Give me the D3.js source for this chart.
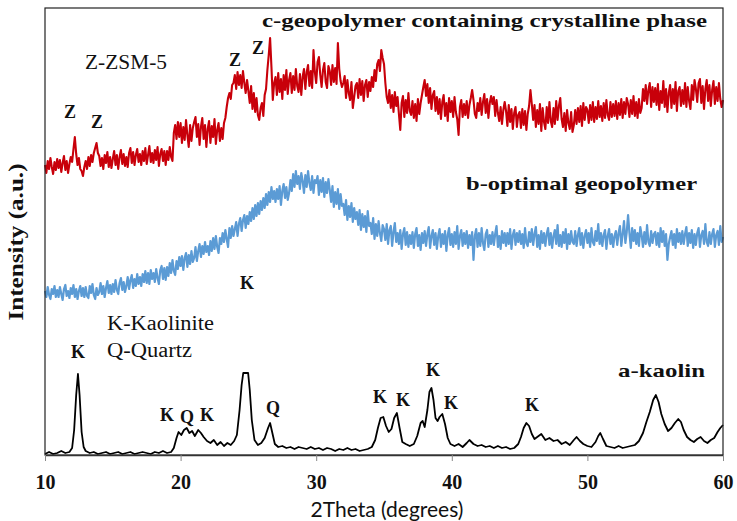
<!DOCTYPE html>
<html>
<head>
<meta charset="utf-8">
<script src="https://cdn.jsdelivr.net/npm/d3@7"></script>
<style>
  html, body { margin: 0; padding: 0; background: #fff; }
  svg { display: block; }
</style>
</head>
<body>
<svg id="chart" width="737" height="521"></svg>
<script>
// ---------- DATA ----------
const xTicks = [10, 20, 30, 40, 50, 60];
const xTitle = "2Theta (degrees)";
const yTitle = "Intensity (a.u.)";

// c-geopolymer containing crystalline phase (2θ 10.0 → 60.0, step 0.1; one row per degree)
const geoCrystalline = [
  290,282,294,286,297,288,281,293,285,296,
  287,295,283,292,299,285,294,282,291,298,
  293,306,318,301,290,297,286,284,279,288,
  294,286,298,289,300,293,302,307,312,302,
  299,289,297,286,300,292,303,288,298,287,
  296,304,290,300,286,298,305,291,301,289,
  298,288,302,307,292,303,290,300,306,293,
  301,290,304,294,307,291,300,309,293,302,
  292,305,295,308,289,301,306,294,304,290,
  304,295,308,298,294,322,330,316,333,318,
  332,312,328,315,335,320,308,330,314,327,
  333,338,318,331,310,328,337,316,330,308,
  326,334,312,329,318,336,311,325,332,314,
  327,316,332,337,348,357,362,356,370,372,
  380,366,383,370,380,367,384,372,362,375,
  364,352,369,346,362,343,357,340,335,347,
  352,339,360,366,385,400,417,388,355,372,
  378,360,382,363,376,356,380,365,385,361,
  375,382,362,379,365,386,369,363,381,360,
  378,386,366,383,390,369,384,367,405,383,
  372,393,398,380,368,385,392,373,367,389,
  384,370,390,373,387,371,412,386,374,368,
  372,379,357,375,362,355,373,347,358,369,
  372,357,376,360,374,354,370,375,358,373,
  364,378,368,385,374,391,395,384,405,397,
  391,372,358,352,365,347,360,343,363,349,
  358,341,325,352,359,338,355,342,362,344,
  340,354,337,351,334,356,341,352,360,368,
  375,359,371,352,367,346,360,364,344,358,
  341,356,336,353,360,339,352,334,357,343,
  354,338,358,343,336,320,348,355,338,351,
  340,354,337,350,357,365,355,341,337,352,
  344,357,340,353,361,342,356,337,352,359,
  351,358,339,355,342,334,348,331,345,353,
  344,329,350,333,346,326,342,348,328,340,
  343,327,346,330,344,325,341,349,365,351,
  335,350,328,345,331,351,324,347,333,326,
  348,332,353,334,328,347,331,354,335,349,
  357,336,328,342,324,345,332,326,343,323,
  330,345,331,347,333,349,329,352,335,348,
  345,332,350,335,353,333,348,336,354,338,
  349,334,352,337,355,340,335,353,338,351,
  339,354,336,352,340,356,337,353,341,357,
  351,338,355,341,359,339,353,337,356,342,
  347,366,354,370,351,365,372,348,368,353,
  367,350,371,345,364,352,374,348,366,343,
  362,370,347,366,351,373,344,364,368,349,
  365,351,372,348,368,354,346,370,355,375,
  366,353,372,376,352,369,346,366,375,354,
  370,349,365,374,351,368,354,372,356,348,
  355
];

// b-optimal geopolymer (2θ 10.0 → 60.0, step 0.1; one row per degree)
const geoOptimal = [
  164,158,168,160,156,166,161,169,158,165,
  158,168,161,155,166,170,159,164,157,167,
  161,170,158,166,156,164,169,159,167,158,
  168,159,157,169,162,171,160,156,167,160,
  163,172,161,169,158,167,174,162,170,161,
  171,163,175,165,161,172,177,165,173,163,
  169,178,166,175,180,167,176,169,181,171,
  178,169,181,173,184,172,182,171,185,176,
  182,173,186,177,171,185,189,176,187,175,
  188,179,192,182,195,184,180,194,186,198,
  189,199,185,197,202,188,200,191,204,193,
  197,208,194,204,211,198,209,201,213,203,
  209,200,214,204,217,206,219,208,202,217,
  211,222,213,225,216,208,227,217,229,219,
  226,233,219,231,237,224,235,240,227,239,
  231,243,234,247,236,250,239,252,241,254,
  245,257,247,261,250,263,253,268,256,264,
  253,266,256,269,250,264,271,257,268,255,
  262,275,264,281,268,284,271,279,266,282,
  274,262,280,268,284,272,265,279,262,275,
  272,279,260,275,263,277,258,273,262,276,
  265,253,269,248,263,251,266,246,261,249,
  251,240,255,235,249,238,252,233,247,236,
  243,230,245,225,241,228,239,223,244,229,
  232,221,237,216,231,219,234,222,214,230,
  226,215,231,211,225,229,209,223,232,213,
  222,211,225,206,221,227,210,223,208,220,
  211,223,207,221,227,209,220,205,222,212,
  224,209,221,228,207,219,225,210,222,206,
  219,226,208,221,211,224,204,220,227,210,
  221,208,223,211,229,206,219,225,209,222,
  211,224,207,220,210,223,195,219,226,208,
  222,209,227,212,205,221,225,208,220,211,
  223,210,221,229,208,219,206,224,212,222,
  209,222,211,226,206,220,225,210,222,213,
  224,211,221,207,227,212,209,223,213,226,
  210,221,228,208,220,206,224,212,222,209,
  221,227,210,222,207,219,225,211,230,209,
  220,208,223,212,226,206,221,211,224,213,
  211,224,209,220,227,210,222,207,219,225,
  212,222,208,227,213,210,224,214,231,211,
  222,209,220,225,206,219,226,211,221,208,
  219,224,210,222,229,209,221,234,212,223,
  240,222,207,227,214,225,211,222,209,228,
  220,208,223,211,230,213,209,224,212,221,
  223,210,222,208,227,213,224,209,221,195,
  211,218,224,210,221,207,226,213,222,211,
  224,211,221,228,209,222,212,225,207,221,
  210,222,227,208,220,224,211,231,213,209,
  223,211,221,226,208,220,224,210,229,213,
  218
];

// a-kaolin (explicit 2θ positions and intensities)
const kaolinAngles = [
  10.0,10.3,10.6,10.9,11.2,11.5,11.8,12.0,12.15,12.3,12.43,12.55,12.7,12.85,13.0,13.3,13.6,13.9,
  14.2,14.5,14.8,15.1,15.4,15.7,16.0,16.3,16.6,16.9,17.2,17.5,17.8,18.1,18.4,18.7,19.0,19.3,
  19.5,19.7,19.85,20.05,20.25,20.45,20.65,20.85,21.05,21.3,21.5,21.7,21.95,22.2,22.45,22.7,
  22.95,23.2,23.45,23.7,23.95,24.15,24.35,24.5,24.62,24.98,25.1,25.25,25.45,25.7,25.95,26.2,
  26.45,26.6,26.75,26.95,27.2,27.5,27.8,28.1,28.4,28.7,29.0,29.3,29.6,29.9,30.2,30.5,30.8,
  31.1,31.4,31.7,32.0,32.3,32.6,32.9,33.2,33.5,33.8,34.1,34.35,34.55,34.75,34.95,35.15,35.35,
  35.55,35.75,35.95,36.15,36.35,36.6,36.9,37.2,37.45,37.7,37.85,38.0,38.2,38.35,38.5,38.65,
  38.8,38.95,39.1,39.3,39.5,39.7,39.9,40.2,40.5,40.8,41.1,41.3,41.6,41.9,42.2,42.5,42.8,43.1,
  43.4,43.7,44.0,44.3,44.6,44.9,45.1,45.3,45.5,45.7,45.9,46.1,46.3,46.6,46.9,47.2,47.5,47.8,
  48.1,48.4,48.7,49.0,49.2,49.45,49.7,50.0,50.3,50.6,50.8,50.95,51.15,51.4,51.7,52.0,52.3,
  52.6,52.9,53.2,53.5,53.8,54.1,54.35,54.6,54.85,55.05,55.25,55.45,55.7,55.95,56.2,56.45,
  56.7,56.9,57.1,57.35,57.6,57.85,58.1,58.35,58.6,58.85,59.1,59.35,59.6,59.8,60.0
];
const kaolinIntensity = [
  1,3,1,2,4,2,3,7,25,60,81,60,23,8,4,2,3,1,
  2,3,1,2,3,1,2,3,1,2,3,2,1,3,2,4,2,3,
  7,17,23,20,25,27,22,24,19,25,22,18,14,12,15,10,
  13,9,12,10,14,20,45,70,82,82,65,35,15,10,12,17,
  27,32,23,11,8,9,7,8,6,8,7,6,8,6,7,5,7,
  6,4,6,5,7,5,6,4,5,6,8,15,27,37,38,29,23,
  26,37,42,27,13,11,9,11,19,32,34,28,45,63,67,55,
  37,34,38,41,31,17,11,9,11,8,12,15,11,9,10,8,9,7,
  9,7,8,6,7,11,18,27,32,29,21,16,18,21,15,17,14,15,
  11,13,10,15,18,14,11,9,8,13,19,22,16,9,8,7,9,
  7,8,9,10,14,22,33,43,55,60,53,41,31,24,27,32,
  36,33,25,18,15,13,16,18,14,12,15,17,23,27,30
];

// Text annotations (2θ, intensity)
const seriesLabels = [
  {text: "c-geopolymer containing crystalline phase", angle: 26.0, value: 428, len: 445},
  {text: "b-optimal geopolymer", angle: 41.05, value: 265, len: 231},
  {text: "a-kaolin", angle: 52.26, value: 78, len: 87}
];
const noteLabels = [
  {text: "Z-ZSM-5", angle: 12.95, value: 386, len: 82},
  {text: "K-Kaolinite", angle: 14.57, value: 125, len: 107},
  {text: "Q-Quartz", angle: 14.57, value: 98, len: 85}
];
const peakLabels = [
  {text: "Z", angle: 11.84, value: 337}, {text: "Z", angle: 13.83, value: 327},
  {text: "Z", angle: 24.01, value: 389}, {text: "Z", angle: 25.71, value: 401},
  {text: "K", angle: 24.90, value: 166},
  {text: "K", angle: 12.43, value: 97}, {text: "K", angle: 19.0, value: 34},
  {text: "Q", angle: 20.47, value: 32}, {text: "K", angle: 21.95, value: 34},
  {text: "Q", angle: 26.81, value: 41}, {text: "K", angle: 34.70, value: 52},
  {text: "K", angle: 36.40, value: 49}, {text: "K", angle: 38.61, value: 79},
  {text: "K", angle: 39.94, value: 46}, {text: "K", angle: 45.91, value: 44}
];

// ---------- CHART ----------
const svg = d3.select("#chart");
const L = 45, R = 723, T = 8, B = 455;
const x = d3.scaleLinear().domain([10, 60]).range([L, R]);
const y = d3.scaleLinear().domain([0, 447]).range([B, T]);
const grid = d3.range(501).map(i => 10 + i * 0.1);

const line = d3.line().x(d => x(d[0])).y(d => y(d[1]));

svg.append("path")
  .attr("d", line(grid.map((a, i) => [a, geoCrystalline[i]])))
  .attr("fill", "none").attr("stroke", "#c8000a").attr("stroke-width", 2.1)
  .attr("stroke-linejoin", "round");
svg.append("path")
  .attr("d", line(grid.map((a, i) => [a, geoOptimal[i]])))
  .attr("fill", "none").attr("stroke", "#5b9bd5").attr("stroke-width", 2.2)
  .attr("stroke-linejoin", "round");
svg.append("path")
  .attr("d", line(kaolinAngles.map((a, i) => [a, kaolinIntensity[i]])))
  .attr("fill", "none").attr("stroke", "#000").attr("stroke-width", 1.8)
  .attr("stroke-linejoin", "round");

// frame
svg.append("rect").attr("x", L).attr("y", T).attr("width", R - L).attr("height", B - T)
  .attr("fill", "none").attr("stroke", "#222").attr("stroke-width", 1.2);

// x axis
const serif = "'Liberation Serif', 'Times New Roman', serif";
const xAxis = d3.axisBottom(x).tickValues(xTicks).tickSize(6).tickSizeOuter(0).tickPadding(14);
const gx = svg.append("g").attr("transform", `translate(0,${B})`).call(xAxis);
gx.select(".domain").attr("stroke", "#333").attr("stroke-width", 1.5);
gx.selectAll(".tick line").attr("stroke", "#888");
gx.selectAll(".tick text")
  .attr("font-family", serif)
  .attr("font-weight", "bold").attr("font-size", 20).attr("fill", "#111");

svg.append("text").attr("x", (L + R) / 2 + 3).attr("y", 517)
  .attr("text-anchor", "middle")
  .attr("font-family", "Lato, 'Open Sans', sans-serif").attr("font-size", 21)
  .attr("fill", "#111").text(xTitle);

svg.append("text")
  .attr("transform", "translate(23,242) rotate(-90)")
  .attr("text-anchor", "middle")
  .attr("font-family", serif)
  .attr("font-weight", "bold").attr("font-size", 21)
  .attr("textLength", 157).attr("lengthAdjust", "spacingAndGlyphs")
  .attr("fill", "#111").text(yTitle);

svg.selectAll(".slab").data(seriesLabels).enter().append("text")
  .attr("x", d => x(d.angle)).attr("y", d => y(d.value))
  .attr("font-family", serif).attr("font-weight", "bold").attr("font-size", 19)
  .attr("textLength", d => d.len).attr("lengthAdjust", "spacingAndGlyphs")
  .attr("fill", "#111").text(d => d.text);

svg.selectAll(".nlab").data(noteLabels).enter().append("text")
  .attr("x", d => x(d.angle)).attr("y", d => y(d.value))
  .attr("font-family", serif).attr("font-size", 20)
  .attr("textLength", d => d.len).attr("lengthAdjust", "spacingAndGlyphs")
  .attr("fill", "#111").text(d => d.text);

svg.selectAll(".plab").data(peakLabels).enter().append("text")
  .attr("x", d => x(d.angle)).attr("y", d => y(d.value))
  .attr("text-anchor", "middle")
  .attr("font-family", serif).attr("font-weight", "bold").attr("font-size", 18)
  .attr("fill", "#111").text(d => d.text);
</script>
</body>
</html>
